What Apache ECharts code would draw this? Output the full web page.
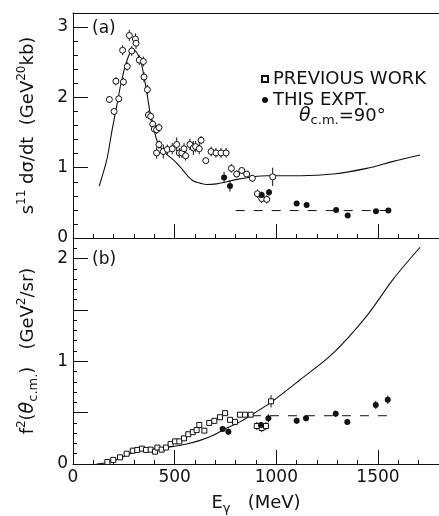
<!DOCTYPE html>
<html>
<head>
<meta charset="utf-8">
<script src="https://cdn.jsdelivr.net/npm/echarts@6/dist/echarts.min.js"></script>
<style>
html,body{margin:0;padding:0;background:#fff;}
#chart{width:439px;height:516px;}
</style>
</head>
<body>
<div id="chart"></div>
<script>
// ---------- DATA ----------
// Panel (a): s^11 dσ/dt ; [E (MeV), value, error]
const prevA = [
  [179,1.97,0.05],[202,1.80,0.04],[211,2.23,0.06],[225,1.98,0.05],[244,2.67,0.07],[248,2.22,0.06],
  [267,2.44,0.06],[277,2.88,0.08],[289,2.66,0.07],[307,2.83,0.08],[310,2.77,0.08],[326,2.53,0.07],
  [346,2.51,0.07],[349,2.29,0.07],[366,2.11,0.07],[371,1.75,0.06],[382,1.73,0.06],[392,1.62,0.06],
  [400,1.55,0.06],[411,1.54,0.06],[423,1.57,0.06],[423,1.33,0.06],[411,1.21,0.08],[444,1.23,0.10],
  [464,1.26,0.07],[488,1.27,0.08],[510,1.33,0.10],[523,1.21,0.07],[535,1.21,0.07],[546,1.27,0.08],
  [554,1.17,0.07],[575,1.33,0.08],[592,1.28,0.10],[603,1.30,0.08],[621,1.27,0.08],[630,1.39,0.06],
  [653,1.10,0.04],[679,1.23,0.07],[703,1.21,0.07],[728,1.21,0.07],[753,1.21,0.07],[779,0.99,0.06],
  [805,0.91,0.05],[830,0.96,0.05],[854,0.91,0.04],[882,0.85,0.05],[907,0.63,0.06],[928,0.56,0.06],
  [953,0.55,0.06],[982,0.87,0.13]
];
const thisA = [
  [743,0.86,0.08],[772,0.74,0.08],[928,0.61,0.05],[964,0.65,0.05],[1100,0.49,0.02],[1149,0.47,0.02],
  [1294,0.40,0.02],[1351,0.32,0.02],[1490,0.38,0.02],[1551,0.39,0.02]
];
const curveA = [
  [129,0.74],[166,1.11],[190,1.50],[215,1.88],[239,2.24],[264,2.51],[284,2.65],[300,2.67],[321,2.60],
  [338,2.46],[354,2.22],[366,2.02],[379,1.78],[395,1.59],[411,1.40],[428,1.30],[461,1.19],[494,1.11],
  [527,1.01],[559,0.90],[592,0.81],[625,0.78],[657,0.76],[706,0.77],[756,0.80],[800,0.83],[887,0.87],
  [953,0.885],[1117,0.885],[1280,0.91],[1444,0.99],[1575,1.09],[1707,1.18]
];
const dashA = [[800,0.39],[1550,0.39]];

// Panel (b): f^2(θc.m.) ; [E (MeV), value, error]
const prevB = [
  [169,0.02,0.01],[198,0.04,0.01],[231,0.065,0.01],[264,0.10,0.01],[294,0.13,0.01],[316,0.137,0.01],
  [339,0.15,0.01],[359,0.137,0.01],[382,0.14,0.01],[403,0.12,0.01],[415,0.16,0.01],[436,0.14,0.01],
  [457,0.16,0.01],[480,0.195,0.01],[502,0.22,0.01],[523,0.22,0.01],[546,0.25,0.01],[567,0.29,0.01],
  [589,0.31,0.01],[608,0.33,0.01],[621,0.38,0.01],[646,0.325,0.01],[670,0.40,0.01],[695,0.42,0.01],
  [723,0.455,0.01],[748,0.495,0.01],[772,0.43,0.02],[797,0.41,0.02],[821,0.48,0.01],[846,0.48,0.01],
  [874,0.48,0.01],[904,0.37,0.04],[928,0.35,0.04],[949,0.37,0.04],[974,0.61,0.06]
];
const thisB = [
  [736,0.34,0.03],[764,0.315,0.03],[925,0.38,0.03],[961,0.445,0.04],[1100,0.42,0.03],[1146,0.445,0.03],
  [1292,0.49,0.03],[1349,0.41,0.03],[1489,0.575,0.04],[1548,0.625,0.04]
];
const curveB = [
  [116,0],[182,0.02],[231,0.055],[280,0.10],[330,0.13],[379,0.14],[428,0.15],[494,0.17],[559,0.195],
  [625,0.23],[690,0.28],[756,0.35],[821,0.41],[887,0.49],[974,0.60],[1117,0.82],[1280,1.08],
  [1444,1.44],[1575,1.80],[1707,2.11]
];
const dashB = [[880,0.47],[1550,0.47]];

const xTickLabels = ['0','500','1000','1500'];
const yTickLabelsA = ['0','1','2','3'];
const yTickLabelsB = ['0','1','2'];
const legendNames = ['PREVIOUS WORK','THIS EXPT.'];

// ---------- CHART ----------
const FONT = 'DejaVu Sans';
const BLACK = '#111';
const chart = echarts.init(document.getElementById('chart'), null, {renderer:'canvas'});

const richBase = {
  b:{fontFamily:FONT,fontSize:18,color:BLACK,lineHeight:24,verticalAlign:'middle'},
  sup:{fontFamily:FONT,fontSize:12,color:BLACK,lineHeight:12,verticalAlign:'top'},
  sub:{fontFamily:FONT,fontSize:13,color:BLACK,lineHeight:12,verticalAlign:'bottom'},
  it:{fontFamily:FONT,fontSize:19,fontStyle:'italic',color:BLACK,lineHeight:24,verticalAlign:'middle'}
};

function labelFrom(list){
  return function(v){
    const s = String(Math.round(v*1000)/1000);
    return list.indexOf(s) >= 0 ? s : '';
  };
}

function errRender(params, api){
  const x = api.value(0), y = api.value(1), e = api.value(2);
  const p1 = api.coord([x, y+e]);
  const p2 = api.coord([x, y-e]);
  return {type:'line', shape:{x1:p1[0],y1:p1[1],x2:p2[0],y2:p2[1]}, style:{stroke:BLACK,lineWidth:1}};
}

const xBase = {min:0,max:1800,splitLine:{show:false},axisLabel:{show:false},
  axisLine:{show:false},axisTick:{show:false}};

const option = {
  animation:false,
  backgroundColor:'#fff',
  grid:[
    {left:73,top:13,width:366,height:225,containLabel:false,outerBoundsMode:'none'},
    {left:73,top:238,width:366,height:226,containLabel:false,outerBoundsMode:'none'}
  ],
  xAxis:[
    Object.assign({},xBase,{gridIndex:0,position:'bottom',interval:100,
      axisLine:{show:true,lineStyle:{color:BLACK,width:1}},
      axisTick:{show:true,inside:true,length:4,lineStyle:{color:BLACK}}}),
    Object.assign({},xBase,{gridIndex:0,position:'bottom',interval:500,
      axisTick:{show:true,inside:true,length:14,lineStyle:{color:BLACK}}}),
    Object.assign({},xBase,{gridIndex:0,position:'top',
      axisLine:{show:true,lineStyle:{color:BLACK,width:1}}}),
    Object.assign({},xBase,{gridIndex:1,position:'bottom',interval:100,
      axisLine:{show:true,lineStyle:{color:BLACK,width:1}},
      axisTick:{show:true,inside:true,length:4,lineStyle:{color:BLACK}}}),
    Object.assign({},xBase,{gridIndex:1,position:'bottom',interval:500,
      axisTick:{show:true,inside:true,length:14,lineStyle:{color:BLACK}},
      axisLabel:{show:true,margin:5,fontFamily:FONT,fontSize:17,color:BLACK,
        formatter:labelFrom(xTickLabels),showMaxLabel:true},
      name:'{b|E}{sub|γ}{b|   (MeV)}',nameLocation:'middle',nameGap:27,
      nameTextStyle:{rich:richBase}})
  ],
  yAxis:[
    {gridIndex:0,position:'left',min:0,max:3.2,interval:0.2,splitLine:{show:false},
      axisLine:{show:true,lineStyle:{color:BLACK,width:1}},
      axisTick:{show:true,inside:true,length:5,lineStyle:{color:BLACK}},axisLabel:{show:false}},
    {gridIndex:0,position:'left',min:0,max:3.2,interval:1,splitLine:{show:false},axisLine:{show:false},
      axisTick:{show:true,inside:true,length:15,lineStyle:{color:BLACK}},
      axisLabel:{show:true,margin:5,fontFamily:FONT,fontSize:17,color:BLACK,formatter:labelFrom(yTickLabelsA)},
      name:'{b|s}{sup|11}{b| dσ/dt  (GeV}{sup|20}{b|kb)}',nameLocation:'middle',nameRotate:90,nameGap:33,
      nameTextStyle:{rich:richBase}},
    {gridIndex:1,position:'left',min:0,max:2.2,interval:0.1,splitLine:{show:false},
      axisLine:{show:true,lineStyle:{color:BLACK,width:1}},
      axisTick:{show:true,inside:true,length:4,lineStyle:{color:BLACK}},axisLabel:{show:false}},
    {gridIndex:1,position:'left',min:0,max:2.2,interval:0.5,splitLine:{show:false},axisLine:{show:false},
      axisTick:{show:true,inside:true,length:15,lineStyle:{color:BLACK}},
      axisLabel:{show:true,margin:5,fontFamily:FONT,fontSize:17,color:BLACK,formatter:labelFrom(yTickLabelsB)},
      name:'{b|f}{sup|2}{b|(}{it|θ}{sub|c.m.}{b|)   (GeV}{sup|2}{b|/sr)}',nameLocation:'middle',nameRotate:90,nameGap:33,
      nameTextStyle:{rich:richBase}}
  ],
  legend:{
    left:256,top:65,orient:'vertical',itemWidth:6,itemHeight:6,itemGap:3,
    textStyle:{fontFamily:FONT,fontSize:18,color:BLACK,lineHeight:18},
    selectedMode:false,
    data:[{name:legendNames[0],icon:'rect'},{name:legendNames[1],icon:'circle'}]
  },
  graphic:[
    {type:'text',left:92,top:20,style:{text:'(a)',font:'17px "DejaVu Sans"',fill:BLACK}},
    {type:'text',left:92,top:251,style:{text:'(b)',font:'17px "DejaVu Sans"',fill:BLACK}},
    {type:'text',left:299,top:107,style:{
      text:'{it|θ}{sub|c.m.}{b|=90°}',
      rich:{
        it:{fontFamily:FONT,fontSize:19,fontStyle:'italic',fill:BLACK,lineHeight:22,verticalAlign:'middle'},
        sub:{fontFamily:FONT,fontSize:13,fill:BLACK,lineHeight:12,verticalAlign:'bottom'},
        b:{fontFamily:FONT,fontSize:18,fill:BLACK,lineHeight:22,verticalAlign:'middle'}
      }}}
  ],
  series:[
    {type:'line',name:'theory a',xAxisIndex:0,yAxisIndex:0,data:curveA,smooth:0.3,showSymbol:false,
      lineStyle:{color:BLACK,width:1.1},z:2},
    {type:'line',name:'fit a',xAxisIndex:0,yAxisIndex:0,data:dashA,showSymbol:false,
      lineStyle:{color:BLACK,width:1,type:[9,9]},z:2},
    {type:'custom',name:'err prev a',xAxisIndex:0,yAxisIndex:0,data:prevA,renderItem:errRender,z:3},
    {type:'custom',name:'err this a',xAxisIndex:0,yAxisIndex:0,data:thisA,renderItem:errRender,z:3},
    {type:'scatter',name:legendNames[0],xAxisIndex:0,yAxisIndex:0,data:prevA,symbol:'circle',symbolSize:6,
      itemStyle:{color:'#fff',borderColor:BLACK,borderWidth:1,opacity:1},z:4},
    {type:'scatter',name:legendNames[1],xAxisIndex:0,yAxisIndex:0,data:thisA,symbol:'circle',symbolSize:6,
      itemStyle:{color:BLACK,borderColor:BLACK,borderWidth:0,opacity:1},z:5},

    {type:'line',name:'theory b',xAxisIndex:3,yAxisIndex:2,data:curveB,smooth:0.3,showSymbol:false,
      lineStyle:{color:BLACK,width:1.1},z:2},
    {type:'line',name:'fit b',xAxisIndex:3,yAxisIndex:2,data:dashB,showSymbol:false,
      lineStyle:{color:BLACK,width:1,type:[9,9]},z:2},
    {type:'custom',name:'err prev b',xAxisIndex:3,yAxisIndex:2,data:prevB,renderItem:errRender,z:3},
    {type:'custom',name:'err this b',xAxisIndex:3,yAxisIndex:2,data:thisB,renderItem:errRender,z:3},
    {type:'scatter',name:legendNames[0],xAxisIndex:3,yAxisIndex:2,data:prevB,symbol:'rect',symbolSize:5,
      itemStyle:{color:'#fff',borderColor:BLACK,borderWidth:1,opacity:1},z:4},
    {type:'scatter',name:legendNames[1],xAxisIndex:3,yAxisIndex:2,data:thisB,symbol:'circle',symbolSize:6,
      itemStyle:{color:BLACK,borderColor:BLACK,borderWidth:0,opacity:1},z:5}
  ]
};
chart.setOption(option);
</script>
</body>
</html>
